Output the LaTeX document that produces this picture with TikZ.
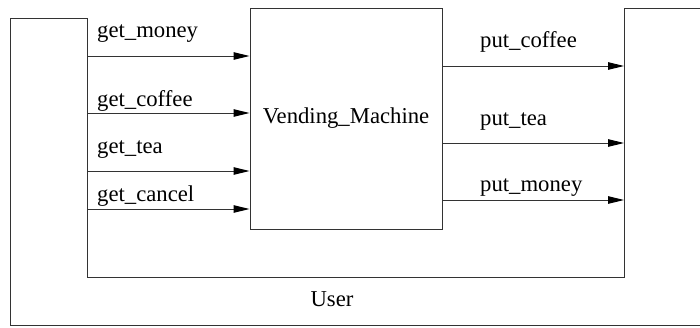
\documentclass[tikz,border=0pt]{standalone}
\usepackage{fontspec}
\setmainfont{Liberation Serif}
\usetikzlibrary{arrows.meta}
\begin{document}
\begin{tikzpicture}[x=1pt,y=-1pt,
  line/.style={draw=black!80,line width=1pt},
  sig/.style={line,-{Triangle[length=16pt,width=7.5pt,color=black]}},
  lbl/.style={anchor=base west,inner sep=0pt,font=\fontsize{22.7}{27}\selectfont},
  box/.style={line,rectangle,minimum width=192pt,minimum height=221pt,inner sep=0pt,font=\fontsize{22.7}{27}\selectfont}]
\useasboundingbox (0,0) rectangle (700,327);
% User environment
\draw[line] (10,18) -- (87,18) -- (87,277) -- (624,277) -- (624,8) -- (702,8) -- (702,325) -- (10,325) -- cycle;
\node[lbl,anchor=base] (user) at (332,306.5) {User};
% Vending machine
\node[box] (vm) at (346,118.5) {};
\node[lbl,anchor=base] (vmtext) at (346,123.5) {Vending\_Machine};
% input signals
\coordinate (gm) at (87,56);
\coordinate (gc) at (87,113);
\coordinate (gt) at (87,171);
\coordinate (gx) at (87,209);
\draw[sig] (gm) -- (vm.west |- gm);
\draw[sig] (gc) -- (vm.west |- gc);
\draw[sig] (gt) -- (vm.west |- gt);
\draw[sig] (gx) -- (vm.west |- gx);
\node[lbl] (lgm) at (97,37.5) {get\_money};
\node[lbl] (lgc) at (97,106.5) {get\_coffee};
\node[lbl] (lgt) at (97,153) {get\_tea};
\node[lbl] (lgx) at (97,201) {get\_cancel};
% output signals
\coordinate (pc) at (624,66);
\coordinate (pt) at (624,143);
\coordinate (pm) at (624,200);
\draw[sig] (vm.east |- pc) -- (pc);
\draw[sig] (vm.east |- pt) -- (pt);
\draw[sig] (vm.east |- pm) -- (pm);
\node[lbl] (lpc) at (480,47.5) {put\_coffee};
\node[lbl] (lpt) at (480,125) {put\_tea};
\node[lbl] (lpm) at (480,191.5) {put\_money};
\end{tikzpicture}
\end{document}
